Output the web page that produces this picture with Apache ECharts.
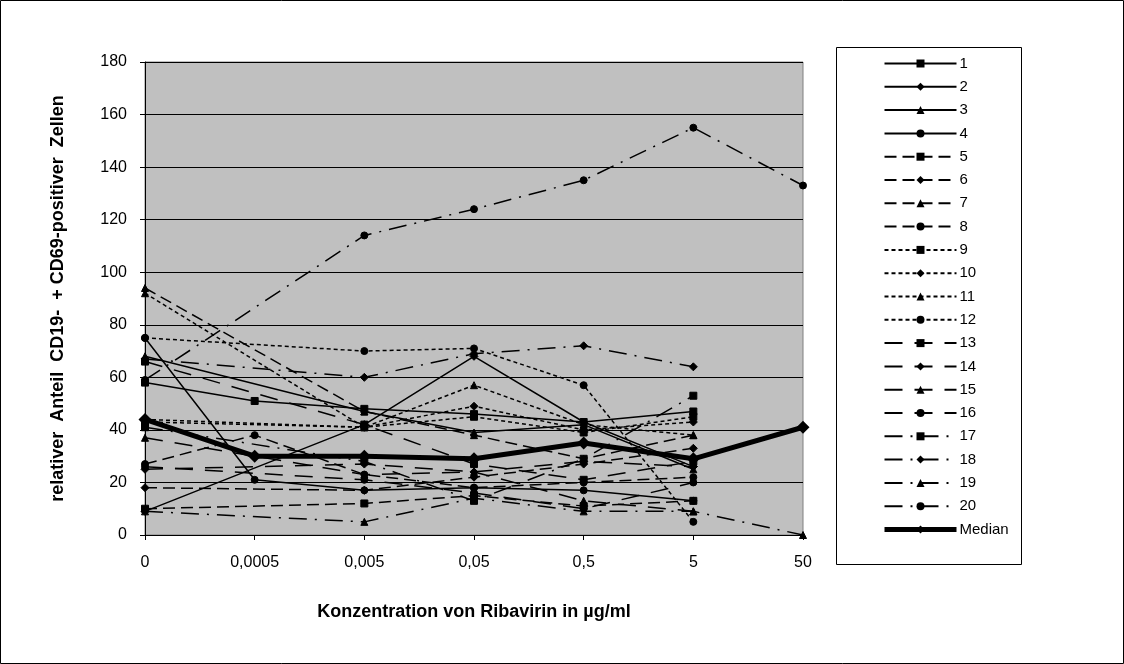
<!DOCTYPE html>
<html>
<head>
<meta charset="utf-8">
<script src="https://cdn.jsdelivr.net/npm/echarts@6/dist/echarts.min.js"></script>
<style>
html,body{margin:0;padding:0;background:#fff;}
#chart{width:1124px;height:664px;}
</style>
</head>
<body>
<div id="chart"></div>
<script>
const categories = ['0', '0,0005', '0,005', '0,05', '0,5', '5', '50'];
const yTicks = [0, 20, 40, 60, 80, 100, 120, 140, 160, 180];
const seriesNames = ['1','2','3','4','5','6','7','8','9','10','11','12','13','14','15','16','17','18','19','20'];

const s1  = [58, 51, 48, 46, 43, 47, null];
const s2  = [9, null, 42, 68, 43, 26, null];
const s3  = [68, null, 47, 39, 42, 25, null];
const s4  = [75, 21, 17, 18, 17, 13, null];
const s5  = [10, null, 12, 15, 11, 13, null];
const s6  = [18, null, 17, 22, 27, 33, null];
const s7  = [94, null, 47, 38, 29, 38, null];
const s8  = [27, 38, 23, 18, 20, 22, null];
const s9  = [43, null, 41, 45, 39, 45, null];
const s10 = [44, null, 41, 49, 40, 43, null];
const s11 = [92, null, 41, 57, 42, 38, null];
const s12 = [75, null, 70, 71, 57, 5, null];
const s13 = [66, null, 42, 27, 21, 28, null];
const s14 = [25, null, 27, 24, 28, 26, null];
const s15 = [37, null, 23, 24, 13, 9, null];
const s16 = [26, null, 21, 16, 10, 20, null];
const s17 = [41, null, 28, 13, 29, 53, null];
const s18 = [67, null, 60, 69, 72, 64, null];
const s19 = [9, null, 5, 14, 9, 9, 0];
const s20 = [59, null, 114, 124, 135, 155, 133];
const median = [44, 30, 30, 29, 35, 29, 41];

const allData = [s1,s2,s3,s4,s5,s6,s7,s8,s9,s10,s11,s12,s13,s14,s15,s16,s17,s18,s19,s20];
const symbols = ['rect', 'diamond', 'triangle', 'circle'];
const dashes = ['solid', [12, 6], [4, 3], [18, 12], [18, 8, 2, 8]];

const font = '"Liberation Sans", Arial, sans-serif';

const series = allData.map((d, i) => {
  const group = Math.floor(i / 4);
  const sym = symbols[i % 4];
  return {
    name: seriesNames[i],
    type: 'line',
    data: d,
    connectNulls: true,
    symbol: sym,
    symbolSize: sym === 'diamond' ? 8 : 7,
    lineStyle: { color: '#000', width: 1.5, type: dashes[group] },
    itemStyle: { color: '#000', borderColor: '#000' },
    emphasis: { disabled: true },
    animation: false,
    z: 2
  };
});
series.push({
  name: 'Median',
  type: 'line',
  data: median,
  connectNulls: true,
  symbol: 'diamond',
  symbolSize: 13,
  lineStyle: { color: '#000', width: 5 },
  itemStyle: { color: '#000' },
  emphasis: { disabled: true },
  animation: false,
  z: 3
});

const legendData = seriesNames.map(n => ({ name: n }));
legendData.push({ name: 'Median', lineStyle: { width: 5 } });

const chart = echarts.init(document.getElementById('chart'));
chart.setOption({
  animation: false,
  backgroundColor: '#fff',
  graphic: [
    { type: 'rect', shape: { x: 0.5, y: 0.5, width: 1123, height: 663 }, style: { fill: 'none', stroke: '#000', lineWidth: 1 }, z: -10 },
    { type: 'rect', shape: { x: 836.5, y: 47.5, width: 185, height: 517 }, style: { fill: '#fff', stroke: '#000', lineWidth: 1 }, z: -5 }
  ],
  grid: {
    left: 145, top: 62, width: 658, height: 473,
    show: true, backgroundColor: '#c0c0c0', borderColor: '#808080', borderWidth: 1
  },
  legend: {
    orient: 'vertical',
    left: 877, top: 51,
    itemWidth: 72, itemHeight: 10,
    itemGap: 8.3,
    data: legendData,
    textStyle: { fontFamily: font, fontSize: 15, color: '#000', padding: [0, 0, 0, -2] },
    selectedMode: false
  },
  xAxis: {
    type: 'category',
    data: categories,
    boundaryGap: false,
    name: 'Konzentration von Ribavirin in µg/ml',
    nameLocation: 'middle',
    nameGap: 68,
    nameTextStyle: { fontFamily: font, fontSize: 18, fontWeight: 'bold', color: '#000' },
    axisLine: { lineStyle: { color: '#000', width: 1 } },
    axisTick: { show: true, length: 5, lineStyle: { color: '#000' } },
    axisLabel: { fontFamily: font, fontSize: 16, color: '#000', margin: 20 },
    splitLine: { show: false }
  },
  yAxis: {
    type: 'value',
    min: 0, max: 180, interval: 20,
    name: 'relativer  Anteil  CD19-  + CD69-positiver  Zellen',
    nameLocation: 'middle',
    nameGap: 78,
    nameTextStyle: { fontFamily: font, fontSize: 18, fontWeight: 'bold', color: '#000' },
    axisLine: { show: true, lineStyle: { color: '#000', width: 1 } },
    axisTick: { show: true, length: 5, lineStyle: { color: '#000' } },
    axisLabel: { fontFamily: font, fontSize: 16, color: '#000', margin: 18,
      formatter: v => yTicks.includes(v) ? String(v) : '' },
    splitLine: { show: true, lineStyle: { color: '#000', width: 1 } }
  },
  series: series
});
</script>
</body>
</html>
